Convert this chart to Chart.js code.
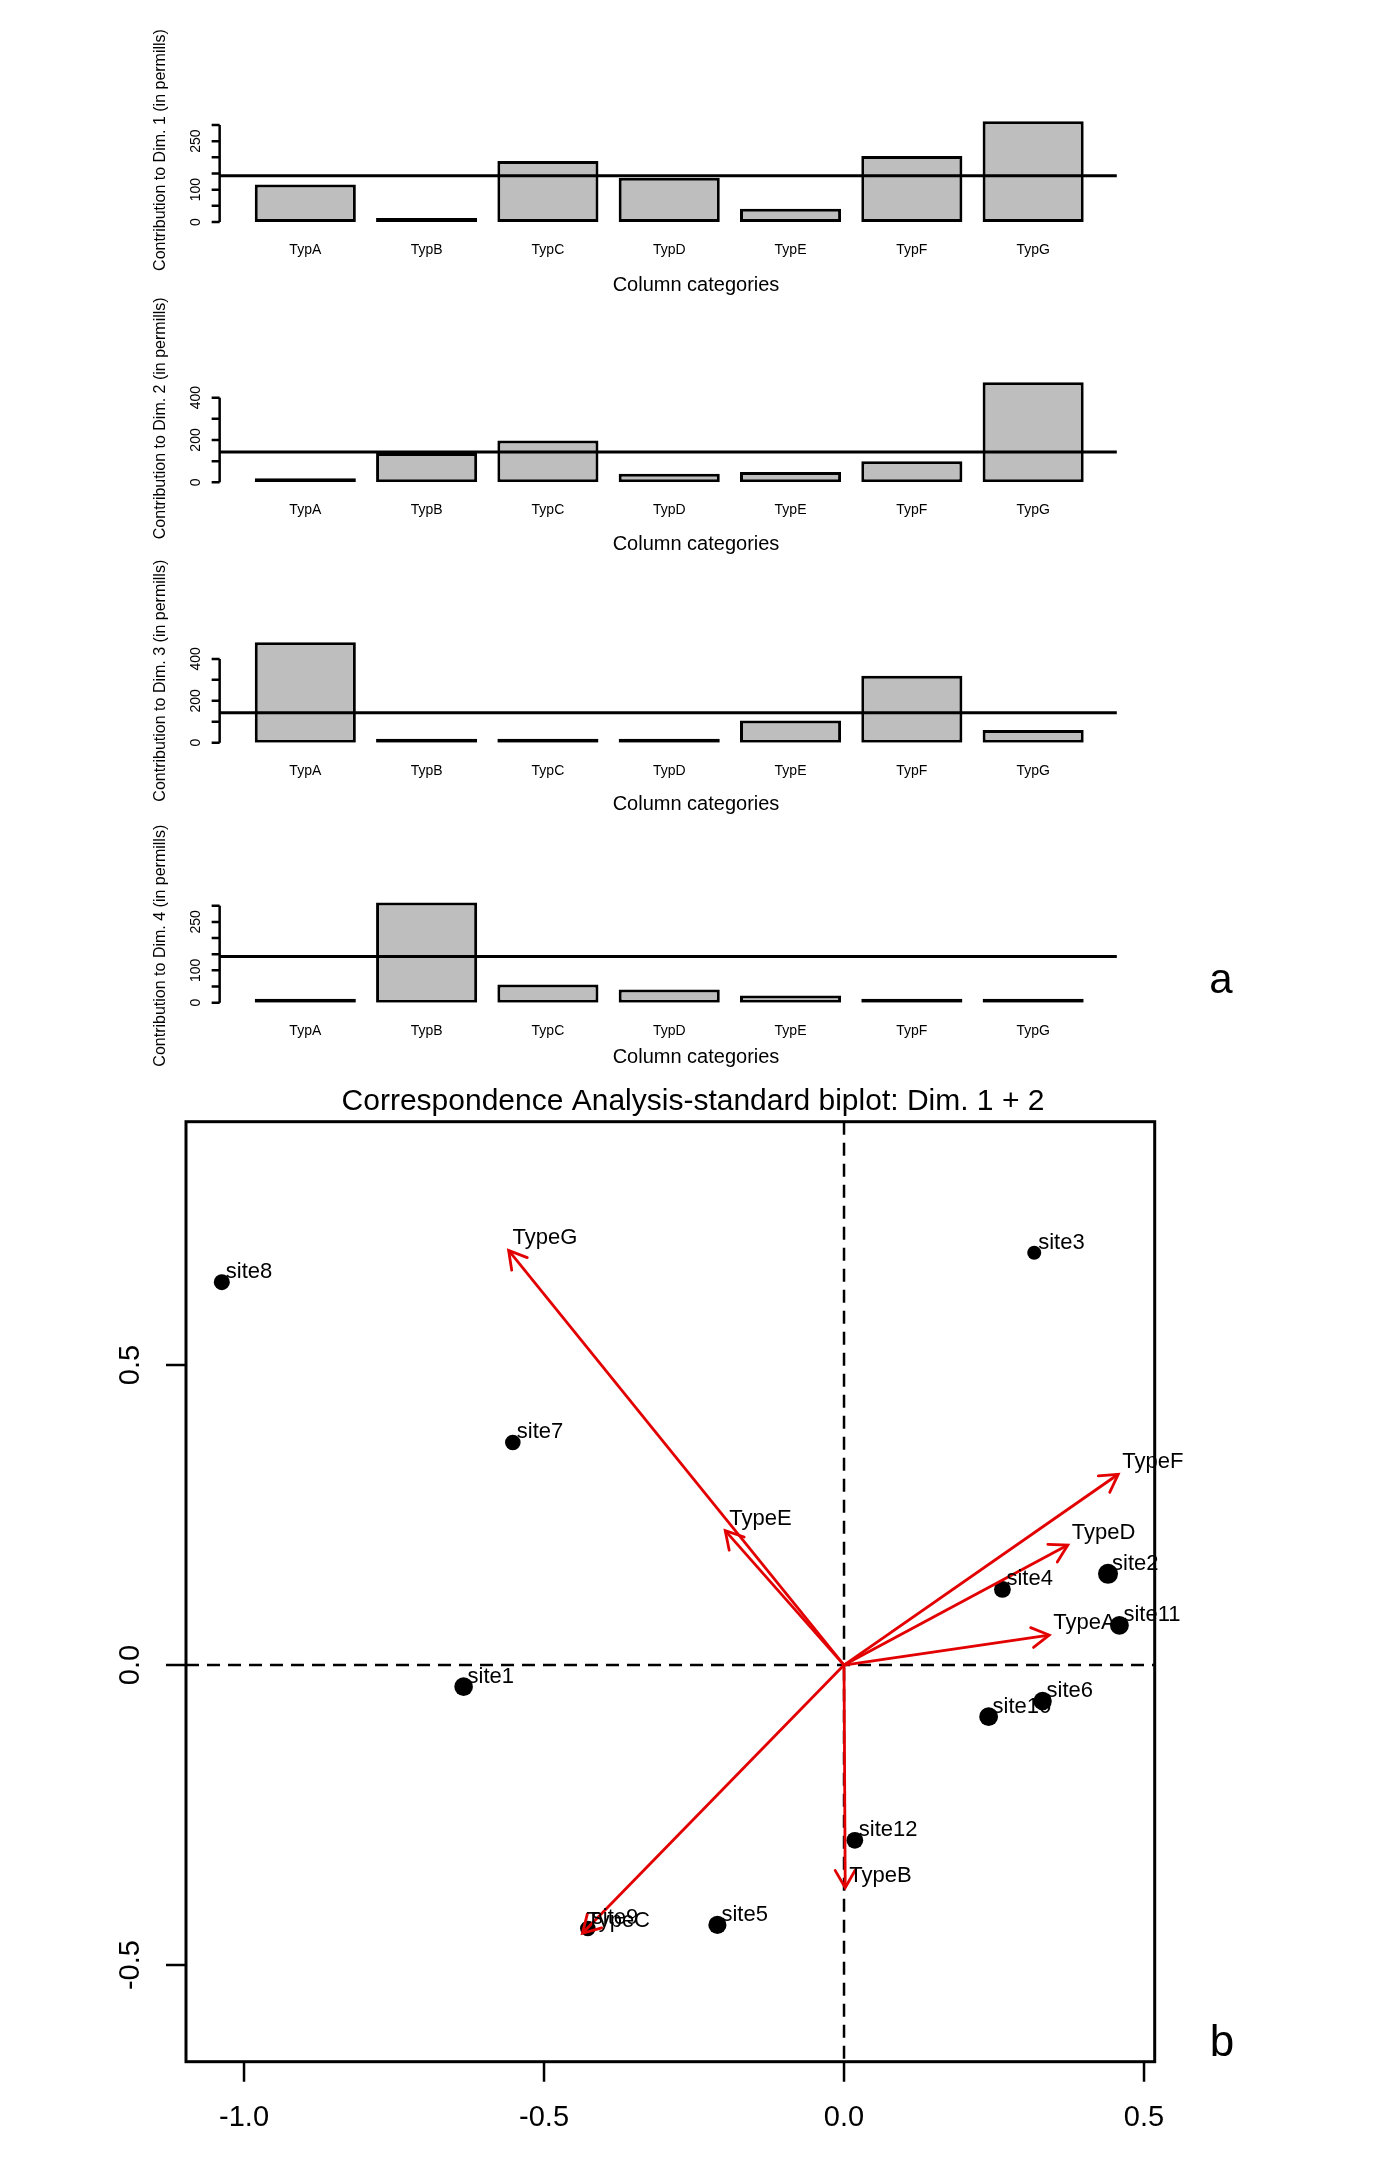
<!DOCTYPE html>
<html>
<head>
<meta charset="utf-8">
<script src="https://cdn.jsdelivr.net/npm/chart.js@4.4.1/dist/chart.umd.min.js"></script>
<style>
  html, body { margin: 0; padding: 0; background: #fff; }
  body { width: 1380px; height: 2166px; position: relative; overflow: hidden; }
  canvas { position: absolute; left: 0; }
</style>
</head>
<body>
<canvas id="dim1" width="1380" height="300" style="top:0px"></canvas>
<canvas id="dim2" width="1380" height="280" style="top:290px"></canvas>
<canvas id="dim3" width="1380" height="280" style="top:550px"></canvas>
<canvas id="dim4" width="1380" height="280" style="top:810px"></canvas>
<canvas id="biplot" width="1380" height="1106" style="top:1060px"></canvas>
<script>
// contributions of the column categories (permills)
const categories = ['TypA', 'TypB', 'TypC', 'TypD', 'TypE', 'TypF', 'TypG'];
const contribDim1 = [116, 1, 189, 137, 41, 204, 312];
const contribDim2 = [3, 138, 197, 40, 49, 100, 473];
const contribDim3 = [479, 5, 18, 11, 106, 320, 61];
const contribDim4 = [2, 310, 56, 41, 22, 1, 2];
const expectedContribution = 1000 / categories.length;

// biplot: row points (sites) and column arrows (types)
const sites = ['site1', 'site2', 'site3', 'site4', 'site5', 'site6', 'site7', 'site8', 'site9', 'site10', 'site11', 'site12'];
const siteDim1 = [-0.634, 0.440, 0.317, 0.264, -0.211, 0.331, -0.552, -1.037, -0.427, 0.241, 0.459, 0.018];
const siteDim2 = [-0.036, 0.152, 0.687, 0.126, -0.433, -0.060, 0.371, 0.638, -0.439, -0.086, 0.066, -0.292];
const types = ['TypeA', 'TypeB', 'TypeC', 'TypeD', 'TypeE', 'TypeF', 'TypeG'];
const typeDim1 = [0.342, 0.002, -0.436, 0.373, -0.198, 0.457, -0.559];
const typeDim2 = [0.050, -0.371, -0.447, 0.200, 0.224, 0.318, 0.691];
const xTicks = [-1.0, -0.5, 0.0, 0.5];
const yTicks = [-0.5, 0.0, 0.5];

// marker sizes of the sites (style only)
const siteRadius = [9.3, 10, 7, 8.4, 9.1, 9.2, 7.8, 8, 7.8, 9.4, 9.4, 8.4];

const FONT = "'Liberation Sans', Arial, Helvetica, sans-serif";
const RED = 'rgb(226,0,0)';

function rotatedText(ctx, text, x, y) {
    ctx.save();
    ctx.translate(x, y);
    ctx.rotate(-Math.PI / 2);
    ctx.textAlign = 'center';
    ctx.textBaseline = 'middle';
    ctx.fillText(text, 0, 0);
    ctx.restore();
}

function barPanel(id, values, dim, setup) {
    const canvas = document.getElementById(id);
    const canvasTop = parseFloat(canvas.style.top);
    const base = setup.baseline - canvasTop;
    const topPad = base - setup.yMax * setup.pxPerUnit;

    const rAxes = {
        id: 'rAxes',
        afterDatasetsDraw(chart) {
            const { ctx, chartArea: a, scales: { x, y } } = chart;
            const axisX = a.left - 25;
            ctx.save();
            ctx.strokeStyle = '#000';
            ctx.fillStyle = '#000';

            // y axis with ticks
            ctx.lineWidth = 2.5;
            ctx.beginPath();
            ctx.moveTo(axisX, y.getPixelForValue(0));
            ctx.lineTo(axisX, y.getPixelForValue(setup.tickTop));
            for (let v = 0; v <= setup.tickTop; v += setup.tickStep) {
                const py = y.getPixelForValue(v);
                ctx.moveTo(axisX, py);
                ctx.lineTo(axisX - 8, py);
            }
            ctx.stroke();
            ctx.font = '14px ' + FONT;
            setup.labelled.forEach(v => rotatedText(ctx, String(v), axisX - 24, y.getPixelForValue(v)));

            // expected average contribution
            ctx.lineWidth = 3;
            ctx.beginPath();
            const ly = y.getPixelForValue(expectedContribution);
            ctx.moveTo(axisX, ly);
            ctx.lineTo(a.right + 23, ly);
            ctx.stroke();

            // category names and titles
            ctx.textAlign = 'center';
            ctx.textBaseline = 'middle';
            ctx.font = '14px ' + FONT;
            categories.forEach((c, i) => ctx.fillText(c, x.getPixelForValue(i), a.bottom + 28));
            ctx.font = '20px ' + FONT;
            ctx.fillText('Column categories', 696, a.bottom + setup.xTitleOffset);
            ctx.font = '16px ' + FONT;
            rotatedText(ctx, 'Contribution to Dim. ' + dim + ' (in permills)', 161, a.bottom + setup.yTitleOffset);

            if (setup.tag) {
                ctx.font = '42px ' + FONT;
                ctx.textBaseline = 'alphabetic';
                ctx.fillText(setup.tag, 1221, a.bottom - 10);
            }
            ctx.restore();
        }
    };

    new Chart(canvas, {
        type: 'bar',
        data: {
            labels: categories,
            datasets: [{
                data: values,
                backgroundColor: '#bebebe',
                borderColor: '#000',
                borderWidth: 3,
                borderSkipped: false,
                minBarLength: 4,
                barPercentage: 0.8333,
                categoryPercentage: 1
            }]
        },
        options: {
            responsive: false,
            animation: false,
            layout: {
                padding: { left: 244.65, right: 1380 - 1093.8, top: topPad, bottom: canvas.height - base }
            },
            scales: {
                x: { display: false, offset: true },
                y: { display: false, min: 0, max: setup.yMax }
            },
            plugins: { legend: { display: false }, tooltip: { enabled: false } }
        },
        plugins: [rAxes]
    });
}

barPanel('dim1', contribDim1, 1, {
    baseline: 222, pxPerUnit: 0.3233, yMax: 330, tickTop: 300, tickStep: 50,
    labelled: [0, 100, 250], xTitleOffset: 63, yTitleOffset: -72
});
barPanel('dim2', contribDim2, 2, {
    baseline: 482.3, pxPerUnit: 0.2116, yMax: 500, tickTop: 400, tickStep: 100,
    labelled: [0, 200, 400], xTitleOffset: 62, yTitleOffset: -64
});
barPanel('dim3', contribDim3, 3, {
    baseline: 742.7, pxPerUnit: 0.2095, yMax: 500, tickTop: 400, tickStep: 100,
    labelled: [0, 200, 400], xTitleOffset: 62, yTitleOffset: -62
});
barPanel('dim4', contribDim4, 4, {
    baseline: 1002.7, pxPerUnit: 0.3233, yMax: 330, tickTop: 300, tickStep: 50,
    labelled: [0, 100, 250], xTitleOffset: 55, yTitleOffset: -57, tag: 'a'
});

// ---- biplot ----
const biplotDecor = {
    id: 'biplotDecor',
    beforeDatasetsDraw(chart) {
        const { ctx, chartArea: a, scales: { x, y } } = chart;
        const x0 = x.getPixelForValue(0), y0 = y.getPixelForValue(0);
        ctx.save();
        ctx.strokeStyle = '#000';
        ctx.lineWidth = 2.5;
        ctx.setLineDash([13, 8]);
        ctx.beginPath();
        ctx.moveTo(a.left, y0);
        ctx.lineTo(a.right, y0);
        ctx.moveTo(x0, a.top);
        ctx.lineTo(x0, a.bottom);
        ctx.stroke();
        ctx.restore();
    },
    afterDatasetsDraw(chart) {
        const { ctx, chartArea: a, scales: { x, y } } = chart;
        const ox = x.getPixelForValue(0), oy = y.getPixelForValue(0);
        ctx.save();

        // arrow heads
        ctx.strokeStyle = RED;
        ctx.lineWidth = 2.8;
        ctx.lineCap = 'round';
        types.forEach((t, i) => {
            const tx = x.getPixelForValue(typeDim1[i]);
            const ty = y.getPixelForValue(typeDim2[i]);
            const ang = Math.atan2(ty - oy, tx - ox);
            ctx.beginPath();
            ctx.moveTo(tx - 20 * Math.cos(ang - Math.PI / 6), ty - 20 * Math.sin(ang - Math.PI / 6));
            ctx.lineTo(tx, ty);
            ctx.lineTo(tx - 20 * Math.cos(ang + Math.PI / 6), ty - 20 * Math.sin(ang + Math.PI / 6));
            ctx.stroke();
        });

        // point and arrow labels
        ctx.fillStyle = '#000';
        ctx.font = '22px ' + FONT;
        ctx.textAlign = 'left';
        ctx.textBaseline = 'alphabetic';
        sites.forEach((s, i) => {
            ctx.fillText(s, x.getPixelForValue(siteDim1[i]) + 4, y.getPixelForValue(siteDim2[i]) - 4);
        });
        types.forEach((t, i) => {
            ctx.fillText(t, x.getPixelForValue(typeDim1[i]) + 4, y.getPixelForValue(typeDim2[i]) - 6);
        });

        // box, ticks, tick labels
        ctx.strokeStyle = '#000';
        ctx.lineWidth = 3;
        ctx.lineCap = 'butt';
        ctx.strokeRect(a.left, a.top, a.right - a.left, a.bottom - a.top);
        ctx.lineWidth = 2.5;
        ctx.beginPath();
        xTicks.forEach(v => {
            const px = x.getPixelForValue(v);
            ctx.moveTo(px, a.bottom);
            ctx.lineTo(px, a.bottom + 20);
        });
        yTicks.forEach(v => {
            const py = y.getPixelForValue(v);
            ctx.moveTo(a.left, py);
            ctx.lineTo(a.left - 20, py);
        });
        ctx.stroke();
        ctx.font = '29px ' + FONT;
        ctx.textAlign = 'center';
        ctx.textBaseline = 'middle';
        xTicks.forEach(v => ctx.fillText(v.toFixed(1), x.getPixelForValue(v), a.bottom + 56));
        yTicks.forEach(v => rotatedText(ctx, v.toFixed(1), a.left - 55, y.getPixelForValue(v)));

        // title and panel tag
        ctx.font = '30px ' + FONT;
        ctx.fillText('Correspondence Analysis-standard biplot: Dim. 1 + 2', 693, a.top - 20);
        ctx.font = '44px ' + FONT;
        ctx.textBaseline = 'alphabetic';
        ctx.fillText('b', 1222, a.bottom - 6);
        ctx.restore();
    }
};

const arrowSets = types.map((t, i) => ({
    label: t,
    data: [{ x: 0, y: 0 }, { x: typeDim1[i], y: typeDim2[i] }],
    showLine: true,
    borderColor: RED,
    borderWidth: 2.8,
    pointRadius: 0,
    fill: false
}));

new Chart(document.getElementById('biplot'), {
    type: 'scatter',
    data: {
        datasets: arrowSets.concat([{
            label: 'sites',
            data: sites.map((s, i) => ({ x: siteDim1[i], y: siteDim2[i] })),
            pointRadius: siteRadius,
            pointBackgroundColor: '#000',
            pointBorderWidth: 0,
            showLine: false
        }])
    },
    options: {
        responsive: false,
        animation: false,
        layout: { padding: { left: 186, right: 1380 - 1154.7, top: 1121.7 - 1060, bottom: 2166 - 2061.7 } },
        scales: {
            x: { type: 'linear', display: false, min: -1.0967, max: 0.5178 },
            y: { type: 'linear', display: false, min: -0.661, max: 0.9055 }
        },
        plugins: { legend: { display: false }, tooltip: { enabled: false } }
    },
    plugins: [biplotDecor]
});
</script>
</body>
</html>
